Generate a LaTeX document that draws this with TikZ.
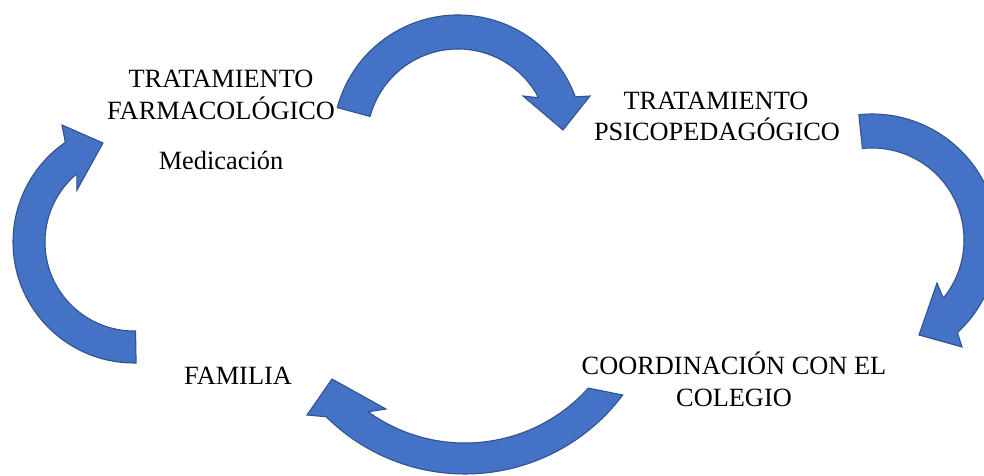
\documentclass[tikz,border=0pt]{standalone}
\usepackage{fontspec}
\setmainfont{Liberation Serif}
\usetikzlibrary{calc}
\definecolor{arrowfill}{HTML}{4472C4}
\definecolor{arrowline}{HTML}{2F528F}
\tikzset{
  blockarrow/.style={fill=arrowfill, draw=arrowline, line width=0.6pt, line join=miter},
  lbl/.style={font=\fontsize{15}{18}\selectfont, inner sep=0pt, anchor=base, text=black}
}
\begin{document}
\begin{tikzpicture}[x=0.02cm, y=0.02cm, yscale=-1]
\useasboundingbox (0,0) rectangle (984,476);
\clip (0,0) rectangle (984,476);
\fill[white] (0,0) rectangle (984,476);
% centres of the four block arcs
\coordinate (c1) at (458,140);
\coordinate (c2) at (872,240);
\coordinate (c3) at (465,277);
\coordinate (c4) at (134,242);
% top arrow
\draw[blockarrow] ($(c1)+(-165:125)$) arc[start angle=-165, end angle=-20.2, radius=125]
  -- (590,96) -- (563,130) -- (523,96)
  -- ($(c1)+(-27.7:91)$) arc[start angle=-27.7, end angle=-165, radius=91] -- cycle;
% right arrow
\draw[blockarrow] ($(c2)+(-96:126)$) arc[start angle=-96, end angle=47.3, radius=126]
  -- (962,347) -- (919,335) -- (937,283)
  -- ($(c2)+(39.2:92)$) arc[start angle=39.2, end angle=-96, radius=92] -- cycle;
% bottom arrow
\draw[blockarrow] ($(c3)+(36.8:197)$) arc[start angle=36.8, end angle=134.8, radius=197]
  -- (307,415) -- (332,379) -- (386,409)
  -- ($(c3)+(125.7:166)$) arc[start angle=125.7, end angle=42, radius=166] -- cycle;
% left arrow
\draw[blockarrow] ($(c4)+(89:121)$) arc[start angle=89, end angle=235.4, radius=121]
  -- (62,125) -- (103,143) -- (77,190)
  -- ($(c4)+(230.1:89)$) arc[start angle=230.1, end angle=89, radius=89] -- cycle;
% labels
\node[lbl] (farm1) at (221,88) {TRATAMIENTO};
\node[lbl] (farm2) at (221,120) {FARMACOLÓGICO};
\node[lbl] (medic) at (221,170) {Medicación};
\node[lbl] (psico1) at (716,110) {TRATAMIENTO};
\node[lbl] (psico2) at (717,141) {PSICOPEDAGÓGICO};
\node[lbl] (fam) at (238,384) {FAMILIA};
\node[lbl] (coord1) at (734,374) {COORDINACIÓN CON EL};
\node[lbl] (coord2) at (734,406) {COLEGIO};
\end{tikzpicture}
\end{document}
